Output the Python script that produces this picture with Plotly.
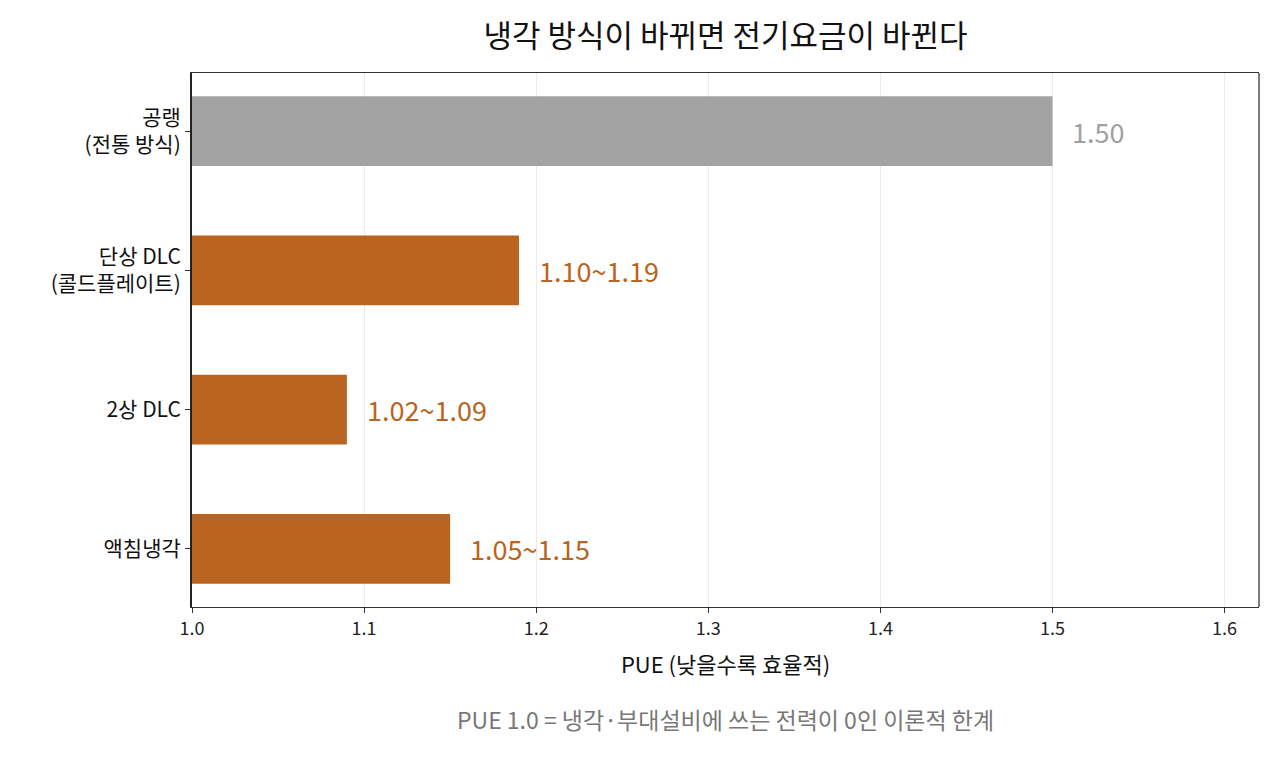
import plotly.graph_objects as go

# 냉각 방식별 PUE
categories = ["공랭<br>(전통 방식)", "단상 DLC<br>(콜드플레이트)", "2상 DLC", "액침냉각"]
pue_upper = [1.50, 1.19, 1.09, 1.15]
value_labels = ["1.50", "1.10~1.19", "1.02~1.09", "1.05~1.15"]
bar_colors = ["#a3a3a3", "#b96420", "#b96420", "#b96420"]
x_ticks = [1.0, 1.1, 1.2, 1.3, 1.4, 1.5, 1.6]

FONT = "Noto Sans CJK KR"

fig = go.Figure()

fig.add_trace(go.Bar(
    y=categories,
    x=[v - 1.0 for v in pue_upper],
    base=1.0,
    orientation="h",
    width=0.5,
    marker=dict(color=bar_colors, line=dict(width=0)),
    hoverinfo="skip",
    showlegend=False,
))

# 막대 끝 값 라벨
for cat, val, lab, col in zip(categories, pue_upper, value_labels, bar_colors):
    fig.add_annotation(
        x=val, y=cat, text=lab, showarrow=False,
        xanchor="left", xshift=18,
        font=dict(family=FONT, size=27, color="#a0a0a0" if col == "#a3a3a3" else col),
    )

# 각주
fig.add_annotation(
    x=0.5, y=-0.21, xref="paper", yref="paper",
    text="PUE 1.0 = 냉각·부대설비에 쓰는 전력이 0인 이론적 한계",
    showarrow=False, xanchor="center", yanchor="middle",
    font=dict(family=FONT, size=23, color="#777777"),
)

# 오른쪽 테두리
fig.add_shape(type="line", xref="paper", yref="paper", x0=1, x1=1, y0=0, y1=1,
              line=dict(color="#333333", width=1.3))

# 페이지 body 여백(8px)을 감안한 크기
fig.update_layout(
    width=1264, height=747,
    margin=dict(l=184, r=13, t=65, b=148),
    paper_bgcolor="white", plot_bgcolor="white",
    font=dict(family=FONT, color="#222222"),
    title=dict(text="냉각 방식이 바뀌면 전기요금이 바뀐다", xref="paper", x=0.5, xanchor="center",
               y=0.962, yanchor="middle", font=dict(family=FONT, size=31, color="#111111")),
    bargap=0.5,
)

fig.update_xaxes(
    automargin=False,
    range=[1.0, 1.62],
    tickvals=x_ticks,
    ticktext=[f"{t:.1f}" for t in x_ticks],
    tickfont=dict(family=FONT, size=18, color="#222222"),
    ticks="outside", ticklen=5, tickcolor="#333333",
    showgrid=True, gridcolor="#ebebeb", gridwidth=1,
    showline=True, linecolor="#333333", linewidth=1.3, mirror=True,
    zeroline=False,
    title=dict(text="PUE (낮을수록 효율적)", font=dict(family=FONT, size=22, color="#111111"), standoff=18),
)

fig.update_yaxes(
    automargin=False,
    range=[3.417, -0.417],
    tickfont=dict(family=FONT, size=21, color="#111111"),
    ticks="outside", ticklen=5, tickcolor="#333333",
    showgrid=False,
    showline=True, linecolor="#222222", linewidth=2,
    zeroline=False,
)

fig.write_html("out.html")
